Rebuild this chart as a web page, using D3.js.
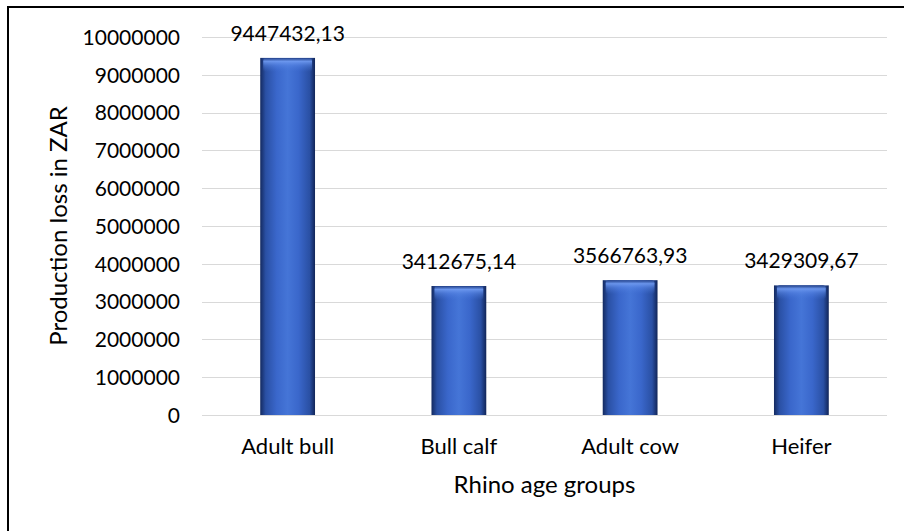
<!DOCTYPE html>
<html><head><meta charset="utf-8">
<script src="https://cdn.jsdelivr.net/npm/d3@7"></script>
<style>body{margin:0;background:#fff}svg{display:block}text{font-family:Lato,"Open Sans",sans-serif;fill:#000}</style>
</head><body><svg id="c" width="904" height="531"></svg>
<script>
const categories = ["Adult bull","Bull calf","Adult cow","Heifer"];
const values = [9447432.13, 3412675.14, 3566763.93, 3429309.67];
const valueLabels = ["9447432,13","3412675,14","3566763,93","3429309,67"];
const yTicks = [0,1000000,2000000,3000000,4000000,5000000,6000000,7000000,8000000,9000000,10000000];
const xTitle = "Rhino age groups";
const yTitle = "Production loss in ZAR";

const svg = d3.select("#c");
const m = {l:202, r:887, t:37, b:415};
const x = d3.scaleBand().domain(categories).range([m.l, m.r]).paddingInner(0.68).paddingOuter(0.34);
const y = d3.scaleLinear().domain([0,10000000]).range([m.b, m.t]);

const defs = svg.append("defs");
const g1 = defs.append("linearGradient").attr("id","bg").attr("x1","0").attr("x2","1").attr("y1","0").attr("y2","0");
[[0,"#142a60"],[0.1,"#2a50a4"],[0.3,"#3a67cb"],[0.5,"#4575d7"],[0.7,"#3a67cb"],[0.9,"#2a50a4"],[1,"#112558"]]
  .forEach(([o,c])=>g1.append("stop").attr("offset",o).attr("stop-color",c));
const g2 = defs.append("linearGradient").attr("id","hl").attr("x1","0").attr("x2","0").attr("y1","0").attr("y2","1");
[[0,"#1d3a80",0.9],[0.25,"#6f9af0",0.9],[0.55,"#5a88e6",0.5],[1,"#4676d8",0]]
  .forEach(([o,c,a])=>g2.append("stop").attr("offset",o).attr("stop-color",c).attr("stop-opacity",a));

// frame
svg.append("rect").attr("x",8).attr("y",7).attr("width",1000).attr("height",1000)
  .attr("fill","none").attr("stroke","#000").attr("stroke-width",2);

// gridlines
svg.append("g").selectAll("line").data(yTicks).join("line")
  .attr("x1",m.l).attr("x2",m.r).attr("y1",d=>Math.round(y(d))+0.5).attr("y2",d=>Math.round(y(d))+0.5)
  .attr("stroke","#d9d9d9").attr("stroke-width",1);

// y axis labels
const ya = svg.append("g").attr("transform",`translate(${m.l-22},0)`)
  .call(d3.axisLeft(y).tickValues(yTicks).tickFormat(d3.format("d")).tickSize(0).tickPadding(0));
ya.select(".domain").remove();
ya.selectAll("text").style("font-size","21px").style("font-family","Lato").attr("dy","0.35em");

// x axis labels
const xa = svg.append("g").attr("transform",`translate(0,${m.b})`)
  .call(d3.axisBottom(x).tickSize(0).tickPadding(0));
xa.select(".domain").remove();
xa.selectAll("text").style("font-size","22px").style("font-family","Lato").attr("y",39).attr("dy",0);

// bars
const bars = svg.append("g").selectAll("g").data(values).join("g");
bars.append("rect").attr("x",(d,i)=>x(categories[i])).attr("width",x.bandwidth())
  .attr("y",d=>y(d)).attr("height",d=>y(0)-y(d)).attr("fill","url(#bg)");
bars.append("rect").attr("x",(d,i)=>x(categories[i])+3).attr("width",x.bandwidth()-6)
  .attr("y",d=>y(d)).attr("height",14).attr("fill","url(#hl)").attr("rx",3);

// value labels
svg.append("g").selectAll("text").data(values).join("text")
  .attr("x",(d,i)=>x(categories[i])+x.bandwidth()/2).attr("y",d=>y(d)-17)
  .attr("text-anchor","middle").style("font-size","21px").text((d,i)=>valueLabels[i]);

// titles
svg.append("text").attr("x",(m.l+m.r)/2).attr("y",493).attr("text-anchor","middle")
  .style("font-size","24px").text(xTitle);
svg.append("text").attr("transform",`translate(67,${(m.t+m.b)/2}) rotate(-90)`).attr("text-anchor","middle")
  .style("font-size","24px").text(yTitle);
</script></body></html>
